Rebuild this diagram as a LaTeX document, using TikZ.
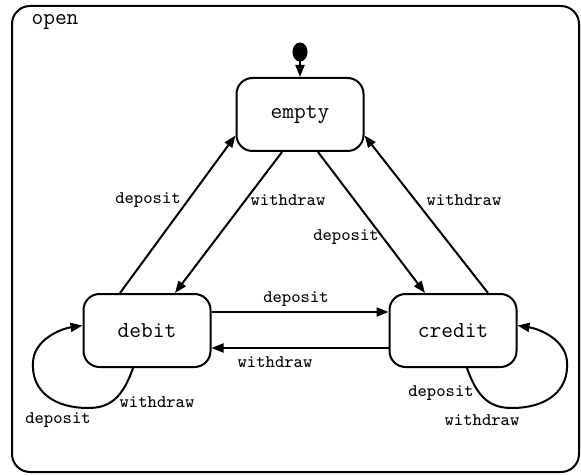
\documentclass[tikz,border=0pt]{standalone}
\usepackage{fontspec}
\usetikzlibrary{arrows.meta,calc,shapes.geometric}
\begin{document}
\begin{tikzpicture}[x=0.5pt,y=-0.5pt,
  line width=1pt,
  >={Triangle[length=6pt,width=4.5pt]},
  state/.style={draw,rounded corners=8pt,minimum width=63.5pt,minimum height=36.5pt,inner sep=0pt,font=\ttfamily\fontsize{11.4}{12}\selectfont},
  lbl/.style={inner sep=0pt,font=\ttfamily\fontsize{8.9}{9}\selectfont},
  outerbox/.style={draw,rounded corners=9pt}]
\useasboundingbox (0,0) rectangle (581,475);
\draw[outerbox] (12,6) rectangle (579,472);
\node[inner sep=0pt,font=\ttfamily\fontsize{11.4}{12}\selectfont] (open) at (55,22) {open};

\node[state] (empty) at (300,114.5) {empty};
\node[state] (debit) at (147,330.5) {debit};
\node[state] (credit) at (453,330.5) {credit};
\node[draw,fill=black,ellipse,minimum width=6.5pt,minimum height=8.5pt,inner sep=0pt] (init) at (300,52) {};

\draw[->] (init.south) -- (empty.north);

% diagonal edges
\draw[->] ($(debit.north)+(-27,0)$) -- ($(empty.west)+(0,21)$);
\draw[->] ($(empty.south)+(-18,0)$) -- ($(debit.north)+(28,0)$);
\draw[->] ($(empty.south)+(18,0)$) -- ($(credit.north)+(-28,0)$);
\draw[->] ($(credit.north)+(35,0)$) -- ($(empty.east)+(0,21)$);

% horizontal edges
\draw[->] ($(debit.east)+(0,-18.5)$) -- ($(credit.west)+(0,-18.5)$);
\draw[->] ($(credit.west)+(0,17.5)$) -- ($(debit.east)+(0,17.5)$);

% self loops
\draw[->] ($(debit.south)+(-14,0)$) .. controls (122,400) and (108,408) .. (88,408)
  .. controls (55,408) and (31,392) .. (33,362)
  .. controls (34,340) and (60,329) .. ($(debit.west)+(0,-5)$);
\draw[->] ($(credit.south)+(14,0)$) .. controls (478,400) and (492,408) .. (512,408)
  .. controls (545,408) and (569,392) .. (567,362)
  .. controls (566,340) and (540,329) .. ($(credit.east)+(0,-5)$);

% labels
\node[lbl] (l1) at (148,200) {deposit};
\node[lbl] (l2) at (288,200) {withdraw};
\node[lbl] (l3) at (346,237) {deposit};
\node[lbl] (l4) at (464,200) {withdraw};
\node[lbl] (l5) at (296,299) {deposit};
\node[lbl] (l6) at (275,362) {withdraw};
\node[lbl] (l7) at (58,420) {deposit};
\node[lbl] (l8) at (157,402) {withdraw};
\node[lbl] (l9) at (441,393) {deposit};
\node[lbl] (l10) at (482,420) {withdraw};
\end{tikzpicture}
\end{document}
